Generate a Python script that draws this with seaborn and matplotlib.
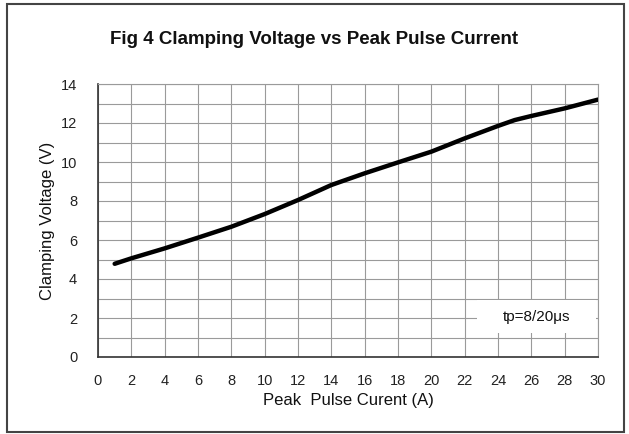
import matplotlib
matplotlib.use("Agg")
import matplotlib.pyplot as plt
import seaborn as sns
import pandas as pd
from matplotlib.patches import Rectangle

current = [1, 2, 4, 6, 8, 10, 12, 14, 16, 18, 20, 22, 24, 25, 26, 28, 30]
voltage = [4.78, 5.06, 5.57, 6.12, 6.68, 7.33, 8.05, 8.82, 9.42, 9.98, 10.53, 11.21, 11.85, 12.15, 12.36, 12.75, 13.2]
x_ticks = list(range(0, 31, 2))
y_ticks = list(range(0, 15, 2))

sns.set_style("white")
plt.rcParams['font.family'] = ['Liberation Sans', 'DejaVu Sans']

fig = plt.figure(figsize=(6.29, 4.34), dpi=100)
ax = fig.add_axes([98/629, 1-357/434, 500/629, 273/434])

df = pd.DataFrame({"I": current, "V": voltage})
sns.lineplot(data=df, x="I", y="V", ax=ax, color="black", linewidth=3.2, solid_capstyle="round", zorder=3)

ax.set_xlim(0, 30)
ax.set_ylim(0, 14)
ax.set_xticks(x_ticks)
ax.set_yticks(y_ticks)
ax.set_yticks(range(0, 15), minor=True)
ax.grid(True, which="both", color="#9a9a9a", linewidth=0.8)
ax.set_axisbelow(True)
ax.tick_params(axis="both", which="both", length=0, labelsize=10.5, colors="#222222", pad=12)
ax.tick_params(axis="y", pad=15)
for s in ["top", "right"]:
    ax.spines[s].set_color("#9a9a9a")
    ax.spines[s].set_linewidth(0.8)
for s in ["left", "bottom"]:
    ax.spines[s].set_color("#333333")
    ax.spines[s].set_linewidth(1.2)

ax.set_xlabel("Peak  Pulse Curent (A)", fontsize=12, color="#111111", labelpad=4)
ax.set_ylabel("Clamping Voltage (V)", fontsize=12, color="#111111", labelpad=4)

ax.add_patch(Rectangle((22.75, 1.23), 7.15, 1.69, fc="white", ec="none", zorder=2))
ax.text(26.3, 2.05, "tp=8/20μs", fontsize=11, ha="center", va="center", color="#111111", zorder=4)

fig.text(0.5, 1-40/434, "Fig 4 Clamping Voltage vs Peak Pulse Current", ha="center", va="center",
         fontsize=13.5, fontweight="bold", color="#111111")

fig.patches.append(Rectangle((7/629, 2/434), 617/629, 428/434, transform=fig.transFigure,
                             fill=False, ec="#444444", lw=1.5))

fig.savefig("out.png", dpi=100)
